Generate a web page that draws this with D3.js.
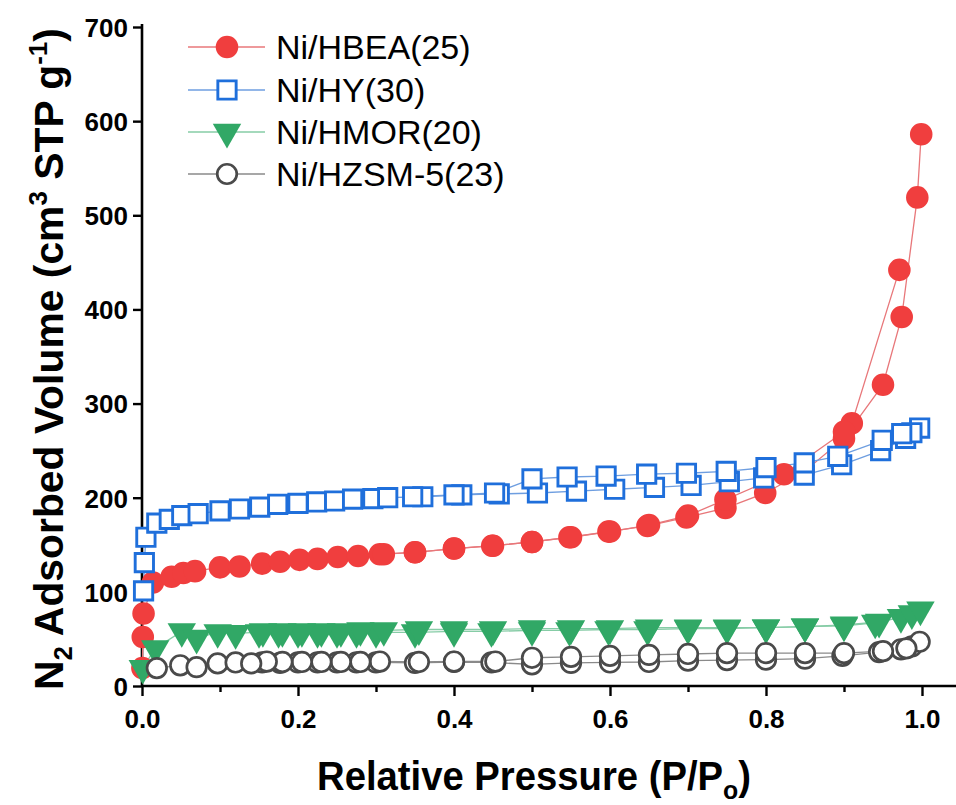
<!DOCTYPE html>
<html>
<head>
<meta charset="utf-8">
<script src="https://cdn.jsdelivr.net/npm/d3@7"></script>
<style>
  html, body { margin: 0; padding: 0; background: #fff; }
  svg { display: block; font-family: Arial, "Liberation Sans", sans-serif; }
</style>
</head>
<body>
<svg id="chart" width="956" height="805"></svg>
<script>
// N2 physisorption isotherms: adsorption and desorption branches per catalyst
const seriesNames = ["Ni/HBEA(25)", "Ni/HY(30)", "Ni/HMOR(20)", "Ni/HZSM-5(23)"];

const hbeaAdsP = [0.0005, 0.001, 0.002, 0.014, 0.038, 0.053, 0.068, 0.10, 0.125, 0.154, 0.177, 0.202, 0.225, 0.251, 0.277, 0.305, 0.35, 0.40, 0.449, 0.50, 0.548, 0.598, 0.648, 0.698, 0.748, 0.799, 0.848, 0.90, 0.95, 0.974, 0.994, 0.999];
const hbeaAdsV = [19, 52, 77, 110, 116, 120, 122, 126, 127, 130, 132, 134, 135, 137, 138, 140, 142, 146, 149, 153, 158, 164, 170, 179, 189, 205, 227, 263, 320, 392, 519, 586];
const hbeaDesP = [0.971, 0.91, 0.90, 0.823, 0.748, 0.70, 0.65, 0.60, 0.55, 0.50, 0.45, 0.40, 0.35, 0.31];
const hbeaDesV = [442, 279, 270, 225, 198, 181, 171, 164, 158, 153, 149, 146, 142, 140];

const hyAdsP = [0.002, 0.003, 0.005, 0.019, 0.035, 0.051, 0.072, 0.10, 0.125, 0.151, 0.174, 0.20, 0.224, 0.247, 0.27, 0.296, 0.315, 0.36, 0.41, 0.458, 0.507, 0.557, 0.606, 0.657, 0.704, 0.753, 0.797, 0.849, 0.897, 0.947, 0.979, 0.997];
const hyAdsV = [101, 131, 158, 173, 177, 181, 183, 186, 188, 190, 193, 194, 195.5, 196.5, 198.5, 199, 200, 201, 203, 204, 205, 207, 209, 211, 213, 217, 221, 224, 235, 250, 263, 274];
const hyDesP = [0.987, 0.974, 0.949, 0.892, 0.849, 0.80, 0.749, 0.698, 0.647, 0.595, 0.545, 0.50, 0.452, 0.40, 0.347];
const hyDesV = [269, 268, 261, 244, 237, 232, 228, 226, 225, 223, 222, 220, 205, 203, 201];

const hmorAdsP = [0.001, 0.017, 0.051, 0.07, 0.097, 0.12, 0.15, 0.175, 0.20, 0.225, 0.25, 0.275, 0.30, 0.35, 0.40, 0.448, 0.50, 0.548, 0.598, 0.648, 0.70, 0.75, 0.80, 0.85, 0.90, 0.945, 0.973, 0.987, 0.998];
const hmorAdsV = [19, 40, 58, 51, 57, 56, 57, 57, 57, 57, 57, 57, 57, 57, 58, 58, 59, 59, 60, 60, 61, 61, 62, 63, 65, 68, 73, 77, 81];
const hmorDesP = [0.94, 0.90, 0.85, 0.80, 0.75, 0.70, 0.65, 0.60, 0.55, 0.50, 0.45, 0.40, 0.355, 0.31, 0.28, 0.255, 0.23, 0.205, 0.18, 0.155];
const hmorDesV = [67, 64, 63, 62, 62, 62, 62, 61, 61, 61, 60, 60, 60, 59, 59, 58, 58, 58, 58, 58];

const hzsmAdsP = [0.019, 0.049, 0.07, 0.097, 0.12, 0.154, 0.177, 0.20, 0.225, 0.25, 0.275, 0.30, 0.35, 0.40, 0.448, 0.50, 0.55, 0.60, 0.65, 0.70, 0.75, 0.80, 0.85, 0.898, 0.945, 0.973, 0.987, 0.997];
const hzsmAdsV = [19, 22, 20, 24, 25, 25, 24.5, 25, 25, 25, 25, 25, 24.5, 25.5, 25, 23, 24.5, 25, 25.5, 27, 27.5, 28, 29, 32, 36, 39, 42, 47];
const hzsmDesP = [0.98, 0.95, 0.90, 0.85, 0.80, 0.75, 0.70, 0.65, 0.60, 0.55, 0.50, 0.453, 0.40, 0.355, 0.305, 0.28, 0.255, 0.23, 0.205, 0.18, 0.16, 0.14];
const hzsmDesV = [40, 37, 35, 35, 35, 35, 34, 33, 32, 31, 30, 26, 26, 25.5, 26, 25.5, 25.5, 25.5, 25.5, 25.5, 26, 24];

const xTicks = [0, 0.2, 0.4, 0.6, 0.8, 1.0];
const xMinorTicks = [0.1, 0.3, 0.5, 0.7, 0.9];
const yTicks = [0, 100, 200, 300, 400, 500, 600, 700];

// Visual styling for each series
const styles = [
  { marker: "circle",   fill: "#F03E3E", stroke: "none",    sw: 0,   size: 400, line: "#E8777A" },
  { marker: "square",   fill: "#ffffff", stroke: "#1F6FDB", sw: 2.9, size: 335, line: "#6E9EE0" },
  { marker: "triangle", fill: "#31A866", stroke: "none",    sw: 0,   size: 350, line: "#86CCA6" },
  { marker: "circle",   fill: "#ffffff", stroke: "#4A4A4A", sw: 2.7, size: 300, line: "#8A8A8A" }
];

const zip = (ps, vs) => ps.map((p, i) => ({ p, v: vs[i] }));
const series = [
  { ads: zip(hbeaAdsP, hbeaAdsV), des: zip(hbeaDesP, hbeaDesV) },
  { ads: zip(hyAdsP, hyAdsV),     des: zip(hyDesP, hyDesV) },
  { ads: zip(hmorAdsP, hmorAdsV), des: zip(hmorDesP, hmorDesV) },
  { ads: zip(hzsmAdsP, hzsmAdsV), des: zip(hzsmDesP, hzsmDesV) }
];

const svg = d3.select("#chart");
const x = d3.scaleLinear().domain([0, 1.0436]).range([142, 956]);
const y = d3.scaleLinear().domain([0, 700]).range([686, 27]);

function symbolPath(st) {
  const type = st.marker === "circle" ? d3.symbolCircle
             : st.marker === "square" ? d3.symbolSquare
             : d3.symbolTriangle;
  return d3.symbol().type(type).size(st.size)();
}

// Axes
const xAxis = svg.append("g").attr("transform", "translate(0,686)")
  .call(d3.axisBottom(x).tickValues(xTicks).tickSize(10).tickFormat(d3.format(".1f")));
const xMinor = svg.append("g").attr("transform", "translate(0,686)")
  .call(d3.axisBottom(x).tickValues(xMinorTicks).tickSize(6).tickFormat(""));
xMinor.select(".domain").remove();
const yAxis = svg.append("g").attr("transform", "translate(142,0)")
  .call(d3.axisLeft(y).tickValues(yTicks).tickSize(9).tickFormat(d3.format("d")));

[xAxis, xMinor, yAxis].forEach(g => {
  g.selectAll("path, line").attr("stroke", "#000").attr("stroke-width", 2.4);
  g.select(".domain").attr("stroke-width", 2.6);
});
xAxis.select(".domain").attr("d", `M${x(0)},0H956`);
yAxis.select(".domain").attr("d", `M0,${y(0)}V${y(700) - 3}`);
xAxis.selectAll("text").attr("font-size", 26).attr("font-weight", "bold")
  .attr("fill", "#000").attr("y", 24).attr("dy", "0.71em");
yAxis.selectAll("text").attr("font-size", 26).attr("font-weight", "bold")
  .attr("fill", "#000").attr("x", -14).attr("dy", "0.36em");

// Data lines and markers
const plot = svg.append("g");
const lineGen = d3.line().x(d => x(d.p)).y(d => y(d.v));
series.forEach((s, i) => {
  const st = styles[i];
  [s.ads, s.des].forEach(branch => {
    plot.append("path").datum(branch).attr("d", lineGen)
      .attr("fill", "none").attr("stroke", st.line).attr("stroke-width", 1.3);
  });
});
series.forEach((s, i) => {
  const st = styles[i];
  const pts = s.ads.concat(s.des);
  plot.append("g").selectAll("path").data(pts).join("path")
    .attr("d", symbolPath(st))
    .attr("transform", d => `translate(${x(d.p)},${y(d.v)})` + (st.marker === "triangle" ? " rotate(180)" : ""))
    .attr("fill", st.fill).attr("stroke", st.stroke).attr("stroke-width", st.sw);
});

// Legend
const legend = svg.append("g");
const legendY = [47, 90, 132, 174];
seriesNames.forEach((name, i) => {
  const st = styles[i];
  const row = legend.append("g").attr("transform", `translate(0,${legendY[i]})`);
  row.append("line").attr("x1", 188).attr("x2", 265).attr("y1", 0).attr("y2", 0)
    .attr("stroke", st.line).attr("stroke-width", 1.3);
  row.append("path").attr("d", symbolPath(st))
    .attr("transform", "translate(227,0)" + (st.marker === "triangle" ? " rotate(180)" : ""))
    .attr("fill", st.fill).attr("stroke", st.stroke).attr("stroke-width", st.sw);
  row.append("text").attr("x", 276).attr("y", 0).attr("dy", "0.36em")
    .attr("font-size", 34).attr("fill", "#000").text(name);
});

// Axis titles, stretched to their drawn widths
function fitWidth(textSel, target) {
  const w = textSel.node().getBBox().width;
  textSel.attr("transform", `scale(${target / w},1)`);
}

const xTitleG = svg.append("g").attr("transform", "translate(534,790)");
const xTitle = xTitleG.append("text").attr("text-anchor", "middle")
  .attr("font-size", 40).attr("font-weight", "bold").attr("fill", "#000");
xTitle.append("tspan").text("Relative Pressure (P/P");
xTitle.append("tspan").attr("font-size", 26).attr("dy", 9).text("o");
xTitle.append("tspan").attr("dy", -9).text(")");
fitWidth(xTitle, 434);

const yTitleG = svg.append("g").attr("transform", "translate(63,359) rotate(-90)");
const yTitle = yTitleG.append("text").attr("text-anchor", "middle")
  .attr("font-size", 41).attr("font-weight", "bold").attr("fill", "#000");
yTitle.append("tspan").text("N");
yTitle.append("tspan").attr("font-size", 26).attr("dy", 9).text("2");
yTitle.append("tspan").attr("dy", -9).text(" Adsorbed Volume (cm");
yTitle.append("tspan").attr("font-size", 26).attr("dy", -16).text("3");
yTitle.append("tspan").attr("dy", 16).text(" STP g");
yTitle.append("tspan").attr("font-size", 26).attr("dy", -16).text("-1");
yTitle.append("tspan").attr("dy", 16).text(")");
fitWidth(yTitle, 662);
</script>
</body>
</html>
